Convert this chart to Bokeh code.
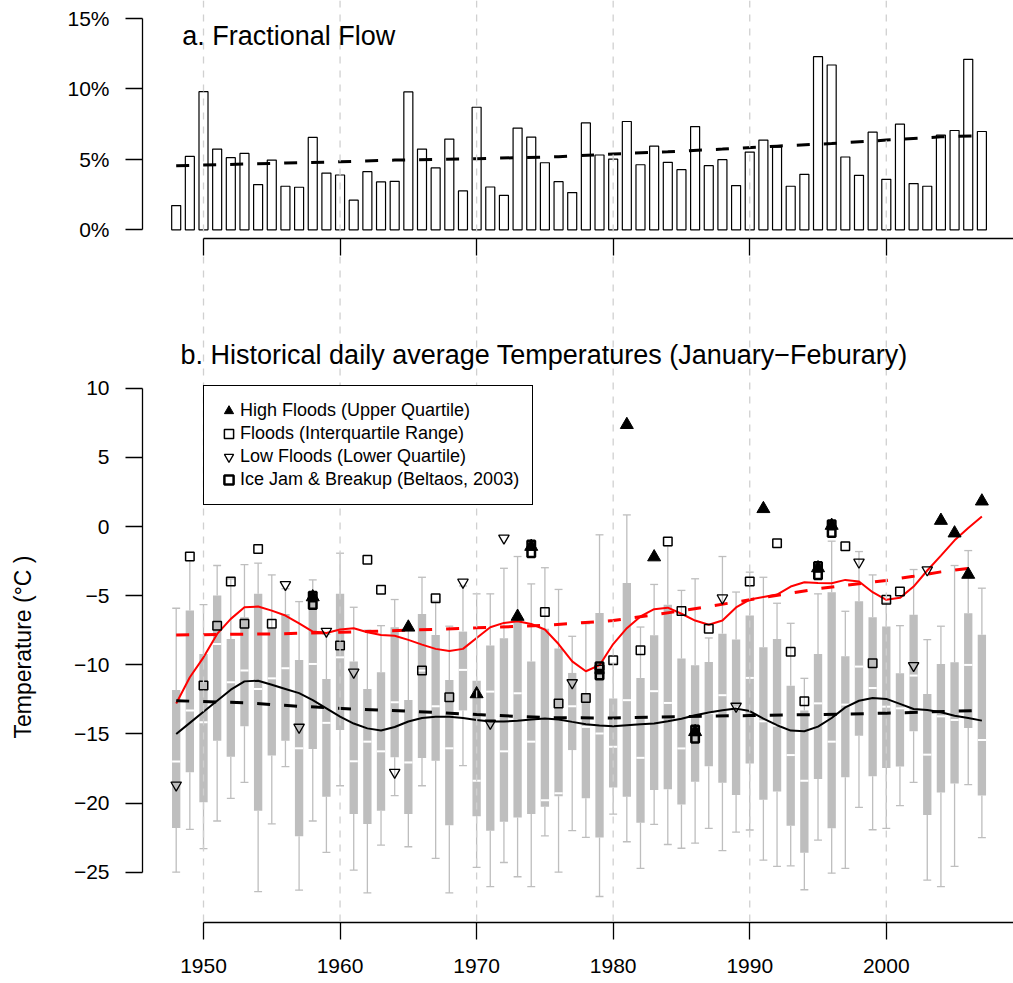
import numpy as np
from bokeh.plotting import figure
from bokeh.layouts import column
from bokeh.models import Range1d, FixedTicker, Span, Label, Legend, LegendItem
from bokeh.embed import file_html
from bokeh.resources import INLINE

# ---------------- data ----------------
years = list(range(1948, 2008))

flow_pct = [1.72, 5.21, 9.81, 5.73, 5.12, 5.42, 3.21, 4.95, 3.09, 3.02,
            6.56, 4.03, 3.89, 2.10, 4.13, 3.40, 3.44, 9.79, 5.73, 4.39,
            6.44, 2.76, 8.70, 3.04, 2.45, 7.22, 6.58, 4.76, 3.42, 2.64,
            7.59, 5.31, 5.02, 7.69, 4.62, 5.94, 4.79, 4.27, 7.33, 4.55,
            4.98, 3.14, 5.52, 6.37, 5.87, 3.09, 3.94, 12.29, 11.70, 5.17,
            3.87, 6.93, 3.58, 7.50, 3.28, 3.09, 6.72, 7.05, 12.10, 6.98]

flow_trend_years = [1948, 1956, 1960, 1964, 1970, 1976, 1980, 1984, 1988, 1992, 1996, 2000, 2004, 2007]
flow_trend_pct = [4.55, 4.74, 4.83, 4.95, 5.05, 5.19, 5.38, 5.54, 5.73, 5.94, 6.12, 6.37, 6.60, 6.68]

whisk_hi = [-5.91, -2.46, -5.65, -2.82, -3.79, -2.75, -2.65, -3.5, -4.5, -5.43,
            -3.86, -7.8, -1.93, -5.84, -7.5, -7.17, -5.28, -7.5, -3.67, -5.4,
            -7.21, -4.3, -4.87, -4.87, -3.02, -2.17, -4.15, -2.98, -4.55, -7.94,
            -7.03, -0.6, -9.9, 0.84, -7.27, -4.19, -1.4, -4.62, -3.78, -8.06,
            -2.17, -4.74, -3.3, -3.67, -5.55, -7.0, -10.98, -4.87, -1.06, -6.13,
            -1.81, -3.5, -5.5, -7.17, -3.11, -8.18, -7.21, -2.82, -1.74, -4.46]
quart_hi = [-11.82, -6.08, -9.22, -4.99, -8.13, -6.56, -4.87, -7.4, -6.32, -9.65,
            -5.24, -11.03, -4.87, -9.77, -11.75, -10.54, -7.29, -12.55, -6.32, -7.84,
            -11.1, -7.6, -11.15, -8.61, -8.08, -6.8, -9.77, -7.39, -8.83, -10.59,
            -12.08, -6.26, -12.44, -4.09, -10.95, -7.87, -5.66, -9.55, -10.04, -9.8,
            -7.75, -8.18, -6.43, -8.73, -8.13, -11.51, -13.3, -9.22, -4.75, -9.38,
            -5.4, -6.56, -7.24, -10.62, -6.39, -12.11, -9.94, -9.82, -6.27, -7.82]
median = [-17.0, -13.3, -14.16, -8.49, -11.27, -10.42, -11.75, -10.98, -10.25, -16.04,
          -9.94, -14.2, -9.46, -16.98, -15.56, -16.26, -12.71, -17.06, -10.42, -13.0,
          -16.04, -10.37, -18.38, -11.94, -16.26, -12.06, -15.56, -19.8, -19.3, -13.0,
          -14.49, -14.97, -15.93, -12.56, -16.73, -11.91, -12.76, -16.05, -15.0, -13.5,
          -12.2, -13.1, -10.95, -14.09, -14.4, -16.53, -18.38, -12.79, -15.56, -12.88,
          -10.13, -11.68, -13.03, -13.15, -10.78, -16.5, -13.73, -13.99, -10.01, -15.44]
quart_lo = [-21.8, -17.78, -19.95, -15.49, -16.65, -14.45, -20.55, -16.57, -15.49, -22.4,
            -16.1, -19.54, -14.72, -20.8, -21.52, -20.55, -16.69, -20.8, -16.74, -16.94,
            -21.6, -13.3, -20.96, -22.0, -21.35, -21.04, -20.8, -20.26, -19.5, -16.17,
            -19.66, -22.5, -18.87, -19.54, -21.42, -19.06, -19.01, -20.1, -18.46, -17.33,
            -18.53, -19.42, -17.14, -19.76, -19.16, -21.64, -23.6, -18.26, -21.83, -18.14,
            -15.13, -18.07, -17.47, -17.35, -14.81, -20.87, -19.23, -18.58, -14.57, -19.45]
whisk_lo = [-25.0, -21.9, -23.3, -21.3, -19.66, -18.5, -26.4, -21.5, -17.37, -26.3,
            -21.3, -23.57, -18.75, -24.85, -26.5, -23.04, -19.47, -23.16, -18.75, -24.0,
            -26.5, -17.3, -24.66, -26.05, -24.3, -25.33, -26.05, -22.38, -25.0, -22.0,
            -22.48, -26.76, -20.8, -22.8, -24.72, -21.54, -23.0, -23.27, -22.9, -21.83,
            -23.44, -22.1, -21.95, -24.13, -24.58, -24.54, -26.27, -22.68, -25.07, -24.73,
            -20.31, -21.93, -21.83, -20.19, -18.5, -25.57, -26.05, -24.58, -18.67, -22.5]

red_smooth = [-12.8, -10.9, -9.46, -7.77, -6.68, -5.84, -5.79, -6.08, -6.44, -7.0,
              -7.6, -7.7, -7.45, -7.36, -7.65, -7.84, -7.9, -8.2, -8.54, -8.85,
              -9.0, -8.85, -8.06, -7.29, -6.97, -6.85, -7.05, -7.45, -8.5, -9.75,
              -10.47, -10.03, -8.5, -7.35, -6.5, -5.98, -5.87, -6.31, -6.8, -7.1,
              -6.8, -5.85, -5.28, -5.1, -4.92, -4.34, -4.03, -4.08, -4.1, -3.86,
              -3.98, -4.75, -5.3, -5.16, -4.34, -3.18, -2.1, -1.0, -0.1, 0.72]
black_smooth = [-15.0, -14.2, -13.4, -12.6, -11.8, -11.2, -11.15, -11.45, -11.75, -12.05,
                -12.55, -13.15, -13.75, -14.25, -14.6, -14.75, -14.5, -14.1, -13.85, -13.75,
                -13.75, -13.85, -14.0, -14.1, -14.1, -14.05, -13.95, -13.88, -13.95, -14.13,
                -14.3, -14.4, -14.44, -14.37, -14.3, -14.25, -14.08, -13.9, -13.65, -13.45,
                -13.29, -13.17, -13.35, -13.9, -14.37, -14.76, -14.81, -14.47, -13.85, -13.08,
                -12.6, -12.4, -12.47, -12.83, -13.2, -13.27, -13.44, -13.68, -13.85, -14.04]

red_trend_years = [1948, 1955, 1960, 1965, 1970, 1975, 1980, 1985, 1990, 1995, 2000, 2002, 2004, 2007]
red_trend = [-7.84, -7.77, -7.65, -7.5, -7.33, -7.15, -6.8, -6.1, -5.3, -4.5, -3.9, -3.6, -3.28, -2.9]
black_trend_years = [1948, 1953, 1957, 1961, 1965, 1970, 1975, 1980, 1985, 1990, 1995, 2000, 2007]
black_trend = [-12.6, -12.75, -13.0, -13.2, -13.35, -13.6, -13.82, -13.85, -13.75, -13.67, -13.6, -13.5, -13.3]

high_years = [1958, 1965, 1970, 1973, 1974, 1981, 1983, 1986, 1991, 1995, 1996, 2004, 2005, 2006, 2007]
high_temp = [-5.1, -7.29, -12.11, -6.51, -1.45, 7.36, -2.21, -14.85, 1.28, -3.0, 0.07, 0.43, -0.48, -3.47, 1.83]

mid_years = [1949, 1950, 1951, 1952, 1953, 1954, 1955, 1960, 1962, 1963, 1966, 1967, 1968,
             1975, 1976, 1978, 1979, 1980, 1982, 1984, 1985, 1987, 1990, 1992, 1993, 1994,
             1997, 1999, 2000, 2001]
mid_temp = [-2.17, -11.5, -7.17, -3.98, -7.04, -1.62, -7.04, -8.61, -2.41, -4.58, -10.42, -5.19, -12.35,
            -6.19, -12.8, -12.4, -10.35, -9.67, -8.95, -1.08, -6.11, -7.39, -3.98, -1.21, -9.05, -12.64,
            -1.42, -9.89, -5.3, -4.7]

low_years = [1948, 1956, 1957, 1959, 1961, 1964, 1969, 1971, 1972, 1977, 1988, 1989, 1998, 2002, 2003]
low_temp = [-18.7, -4.2, -14.52, -7.58, -10.54, -17.78, -4.03, -14.23, -0.84, -11.3, -5.17, -13.0, -2.58, -10.06, -3.14]

ice_years = [1958, 1974, 1979, 1986, 1995, 1996]
ice_temp_a = [-5.0, -1.3, -10.1, -14.68, -2.85, 0.17]
ice_temp_b = [-5.67, -1.93, -10.78, -15.35, -3.52, -0.46]

grid_years = [1950, 1960, 1970, 1980, 1990, 2000]
year_ticks = [1950, 1960, 1970, 1980, 1990, 2000]
pct_ticks = [0, 5, 10, 15]
temp_ticks = [-25, -20, -15, -10, -5, 0, 5, 10]

# ---------------- style ----------------
FONT = "Liberation Sans"
GREY = "#bebebe"
GRID = "#d0d0d0"
X_RANGE = (1945.533, 2009.315)
FRAME_W = 871


def style_axes(p):
    for ax in (p.xaxis[0], p.yaxis[0]):
        ax.axis_line_width = 1.3
        ax.axis_line_color = "black"
        ax.major_tick_line_width = 1.3
        ax.major_tick_line_color = "black"
        ax.major_tick_out = 17
        ax.major_tick_in = 0
        ax.minor_tick_line_color = None
        ax.major_label_text_font = FONT
        ax.major_label_text_font_size = "21px"
        ax.major_label_text_color = "black"
    p.xgrid.visible = False
    p.ygrid.visible = False
    for yr in grid_years:
        p.add_layout(Span(location=yr, dimension="height", line_color=GRID,
                          line_width=1.3, line_dash="7 7"), "center")


# ---------------- panel a ----------------
p1 = figure(frame_width=FRAME_W, frame_height=238,
            x_range=Range1d(*X_RANGE), y_range=Range1d(-0.618, 16.28),
            output_backend="svg", toolbar_location=None,
            min_border_left=142, min_border_right=0, min_border_top=0, min_border_bottom=18,
            outline_line_color=None, background_fill_color="white", border_fill_color="white")
style_axes(p1)
p1.yaxis.ticker = FixedTicker(ticks=pct_ticks)
p1.yaxis.major_label_overrides = {t: f"{t}%" for t in pct_ticks}
p1.yaxis.bounds = (pct_ticks[0], pct_ticks[-1])
p1.yaxis.major_label_standoff = 16
p1.xaxis.ticker = FixedTicker(ticks=year_ticks)
p1.xaxis.bounds = (1950, 2010)
p1.xaxis.major_label_text_font_size = "1px"
p1.xaxis.major_label_text_color = None
p1.xaxis.major_label_standoff = 0

p1.vbar(x=years, top=flow_pct, bottom=0, width=0.66, fill_color="white",
        line_color="black", line_width=1.2)
p1.line(flow_trend_years, flow_trend_pct, line_color="black", line_width=3, line_dash="13 14")
p1.add_layout(Label(x=1948.44, y=13.79, text="a. Fractional Flow", text_font=FONT,
                    text_font_size="27px", text_color="black", text_baseline="alphabetic",
                    text_align="left"))

# ---------------- panel b ----------------
p2 = figure(frame_width=FRAME_W, frame_height=666,
            x_range=Range1d(*X_RANGE), y_range=Range1d(-28.64, 19.53),
            output_backend="svg", toolbar_location=None,
            min_border_left=142, min_border_right=0, min_border_top=0, min_border_bottom=60,
            outline_line_color=None, background_fill_color="white", border_fill_color="white")
style_axes(p2)
p2.yaxis.ticker = FixedTicker(ticks=temp_ticks)
p2.yaxis.major_label_overrides = {t: (f"\u2212{abs(t)}" if t < 0 else f"{t}") for t in temp_ticks}
p2.yaxis.bounds = (temp_ticks[0], temp_ticks[-1])
p2.yaxis.major_label_standoff = 16
# trailing no-break spaces push the centred label down to where the reference has it
p2.yaxis.axis_label = "Temperature (\u00b0C )" + "\u00a0" * 18
p2.yaxis.axis_label_text_font = FONT
p2.yaxis.axis_label_text_font_size = "23px"
p2.yaxis.axis_label_text_font_style = "normal"
p2.yaxis.axis_label_text_color = "black"
p2.yaxis.axis_label_standoff = 35
p2.xaxis.ticker = FixedTicker(ticks=year_ticks)
p2.xaxis.bounds = (1950, 2010)
p2.xaxis.major_label_standoff = 19

yrs = np.array(years, dtype=float)
cap = 0.29
p2.segment(x0=yrs, y0=whisk_lo, x1=yrs, y1=quart_lo, line_color=GREY, line_width=1.3)
p2.segment(x0=yrs, y0=quart_hi, x1=yrs, y1=whisk_hi, line_color=GREY, line_width=1.3)
p2.segment(x0=yrs - cap, y0=whisk_lo, x1=yrs + cap, y1=whisk_lo, line_color=GREY, line_width=1.3)
p2.segment(x0=yrs - cap, y0=whisk_hi, x1=yrs + cap, y1=whisk_hi, line_color=GREY, line_width=1.3)
p2.vbar(x=yrs, bottom=quart_lo, top=quart_hi, width=0.61, fill_color=GREY, line_color=None)
p2.segment(x0=yrs - 0.3, y0=median, x1=yrs + 0.3, y1=median, line_color="white", line_width=2)

p2.line(years, red_smooth, line_color="red", line_width=2)
p2.line(red_trend_years, red_trend, line_color="red", line_width=3, line_dash="13 14")
p2.line(years, black_smooth, line_color="black", line_width=2)
p2.line(black_trend_years, black_trend, line_color="black", line_width=3, line_dash="13 14")

r_high = p2.scatter(high_years, high_temp, marker="triangle", size=13,
                    fill_color="black", line_color="black", line_width=1)
r_mid = p2.scatter(mid_years, mid_temp, marker="square", size=8.5,
                   fill_color=None, line_color="black", line_width=1.5)
r_low = p2.scatter(low_years, low_temp, marker="inverted_triangle", size=10.5,
                   fill_color=None, line_color="black", line_width=1.3)
r_ice = p2.scatter(ice_years + ice_years, ice_temp_a + ice_temp_b, marker="square", size=7.5,
                   fill_color=None, line_color="black", line_width=2.5)

legend = Legend(items=[
    LegendItem(label="High Floods (Upper Quartile)", renderers=[r_high]),
    LegendItem(label="Floods (Interquartile Range)", renderers=[r_mid]),
    LegendItem(label="Low Floods (Lower Quartile)", renderers=[r_low]),
    LegendItem(label="Ice Jam & Breakup (Beltaos, 2003)", renderers=[r_ice]),
], location=(61, 417), margin=0, padding=13, spacing=0,
    glyph_width=23, glyph_height=23, label_standoff=0,
    label_text_font=FONT, label_text_font_size="18px", label_text_color="black",
    border_line_color="black", border_line_width=1.3, border_line_alpha=1.0,
    background_fill_color="white", background_fill_alpha=1.0)
p2.add_layout(legend, "center")

p2.add_layout(Label(x=1948.32, y=12.44,
                    text="b. Historical daily average Temperatures (January\u2212Feburary)",
                    text_font=FONT, text_font_size="27px", text_color="black",
                    text_baseline="alphabetic", text_align="left"))

layout = column(p1, p2, spacing=0)
open("out.html", "w").write(file_html(layout, INLINE))
